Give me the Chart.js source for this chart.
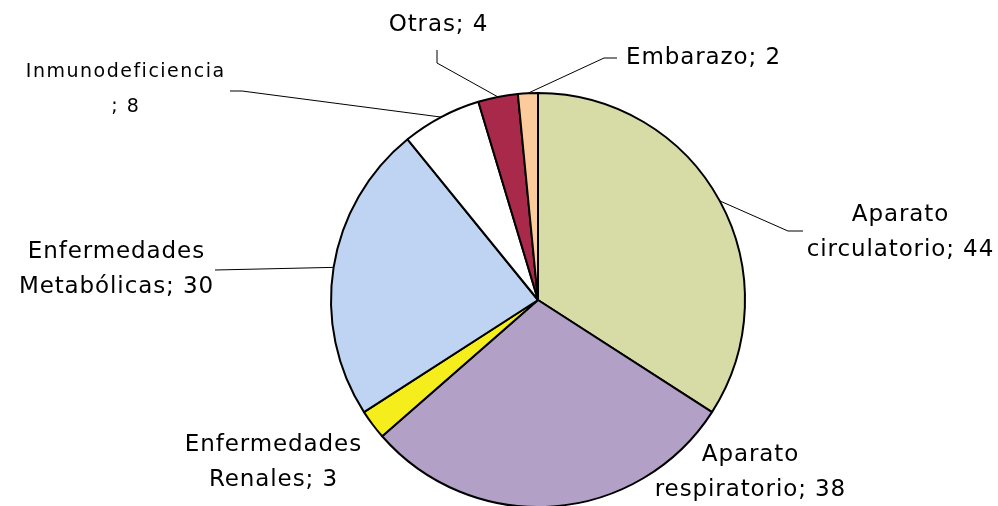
<!DOCTYPE html>
<html>
<head>
<meta charset="utf-8">
<script src="https://cdn.jsdelivr.net/npm/chart.js@4.4.0/dist/chart.umd.min.js"></script>
<style>
html,body{margin:0;padding:0;background:#fff;overflow:hidden;width:998px;height:506px;}
canvas{display:block;}
</style>
</head>
<body>
<canvas id="c" width="998" height="520"></canvas>
<script>
const categories = ["Aparato circulatorio","Aparato respiratorio","Enfermedades Renales","Enfermedades Metabólicas","Inmunodeficiencia","Otras","Embarazo"];
const values = [44, 38, 3, 30, 8, 4, 2];
const colors = ["#D7DBA5","#B3A0C6","#F5EE1C","#BFD4F2","#FFFFFF","#A8294A","#FCCB9C"];
// label text lines per slice
const labelLines = [
  ["Aparato","circulatorio; 44"],
  ["Aparato","respiratorio; 38"],
  ["Enfermedades","Renales; 3"],
  ["Enfermedades","Metabólicas; 30"],
  ["Inmunodeficiencia","; 8"],
  ["Otras; 4"],
  ["Embarazo; 2"]
];

// layout for labels: text centre, font size, letter spacing, leader polyline (from label side)
const labelLayout = [
  {x:900, y:215, size:23, sp:0.9, line:[[803,231],[788,231]]},
  {x:750, y:455, size:23, sp:0.9, line:null},
  {x:273, y:445, size:23, sp:0.9, line:null},
  {x:116, y:252, size:23, sp:0.9, line:[[215,270]]},
  {x:125, y:72,  size:19, sp:1.5, line:[[230,91],[242,91]]},
  {x:438, y:25,  size:23, sp:0.9, line:[[437,50],[437,63]]},
  {x:703, y:58,  size:23, sp:0.9, line:[[617,58],[604,58]]}
];

const labelPlugin = {
  id:'pieLabels',
  afterDatasetsDraw(chart){
    const ctx = chart.ctx;
    const meta = chart.getDatasetMeta(0);
    ctx.save();
    meta.data.forEach((arc, i) => {
      const L = labelLayout[i];
      const lines = labelLines[i];
      if (L.line){
        const mid = (arc.startAngle + arc.endAngle)/2;
        const px = arc.x + Math.cos(mid)*arc.outerRadius;
        const py = arc.y + Math.sin(mid)*arc.outerRadius;
        ctx.beginPath();
        ctx.strokeStyle = '#000';
        ctx.lineWidth = 1;
        ctx.moveTo(L.line[0][0], L.line[0][1]);
        for (let k=1;k<L.line.length;k++) ctx.lineTo(L.line[k][0], L.line[k][1]);
        ctx.lineTo(px, py);
        ctx.stroke();
      }
      ctx.fillStyle = '#000';
      ctx.font = L.size + 'px "DejaVu Sans"';
      ctx.letterSpacing = L.sp + 'px';
      ctx.textAlign = 'center';
      ctx.textBaseline = 'middle';
      const lh = 35;
      lines.forEach((t, k) => ctx.fillText(t, L.x + L.sp/2, L.y + k*lh));
    });
    ctx.restore();
  }
};

new Chart(document.getElementById('c'), {
  type:'pie',
  data:{
    labels: categories,
    datasets:[{
      data: values,
      backgroundColor: colors,
      borderColor:'#000',
      borderWidth:2,
      borderAlign:'center'
    }]
  },
  options:{
    responsive:false,
    animation:false,
    layout:{padding:{left:330, right:252, top:92, bottom:12}},
    plugins:{legend:{display:false}, tooltip:{enabled:false}}
  },
  plugins:[labelPlugin]
});
</script>
</body>
</html>
